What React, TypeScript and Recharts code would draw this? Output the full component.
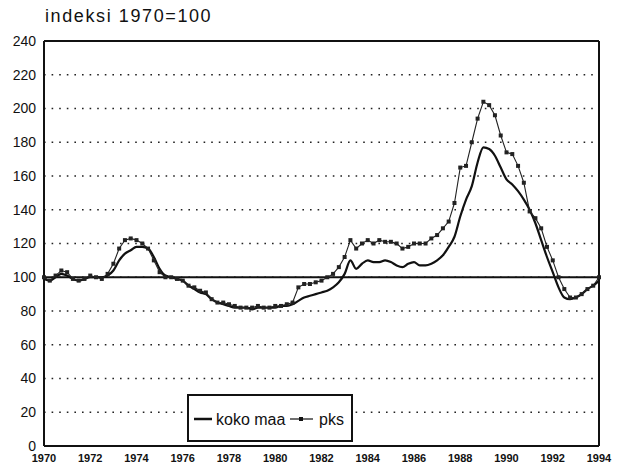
import {
  CartesianGrid,
  Line,
  LineChart,
  ReferenceLine,
  XAxis,
  YAxis,
} from "recharts";

// quarterly, 1970 Q1 .. 1994 Q1
const startYear = 1970;

const kokoMaa = [
  99, 98, 100, 102,
  101, 99, 98, 99,
  100, 100, 100, 101,
  104, 110, 114, 116,
  118, 118, 117, 112,
  105, 101, 100, 99,
  98, 95, 93, 91,
  90, 87, 85, 84,
  83, 82, 82, 82,
  81, 82, 82, 82,
  82, 83, 83, 84,
  86, 88, 89, 90,
  91, 92, 94, 97,
  102, 110, 105, 108,
  110, 109, 109, 110,
  109, 107, 106, 108,
  109, 107, 107, 108,
  110, 113, 118, 124,
  136, 146, 154, 168,
  177, 176, 172, 165,
  158, 155, 151, 146,
  140, 132, 122, 112,
  103, 94, 88, 87,
  88, 90, 93, 95,
  98,
];

const pks = [
  100, 98, 101, 104,
  103, 99, 98, 99,
  101, 100, 99, 102,
  108, 117, 122, 123,
  122, 120, 117, 110,
  103, 100, 100, 99,
  98, 95, 94, 92,
  91, 87, 85, 85,
  84, 83, 82, 82,
  82, 83, 82, 82,
  83, 83, 84, 85,
  94, 96, 96, 97,
  98, 100, 102, 106,
  112, 122, 117, 120,
  122, 120, 122, 121,
  121, 120, 117, 118,
  120, 120, 120, 123,
  125, 129, 133, 144,
  165, 166, 180, 194,
  204, 202, 196, 184,
  174, 173, 166, 156,
  139, 135, 129, 118,
  110, 100, 93, 88,
  88, 90, 93, 95,
  100,
];

const yearTicks = [1970, 1972, 1974, 1976, 1978, 1980, 1982, 1984, 1986, 1988, 1990, 1992, 1994];
const valueTicks = [0, 20, 40, 60, 80, 100, 120, 140, 160, 180, 200, 220, 240];

const data = kokoMaa.map((v, i) => ({
  t: startYear + i / 4,
  "koko maa": v,
  pks: pks[i],
}));

const font = '"Liberation Sans", Arial, Helvetica, sans-serif';

function SquareDot(props: any) {
  const { cx, cy } = props;
  if (cx == null || cy == null) return null;
  return <rect x={cx - 2} y={cy - 2} width={4} height={4} fill="#222" />;
}

// legend drawn as a plain box over the plot, like the original
function LegendBox() {
  return (
    <svg
      width={168}
      height={50}
      style={{ position: "absolute", left: 186, top: 393, overflow: "visible" }}
    >
      <rect x={2} y={2} width={164} height={46} fill="#fff" stroke="#111" strokeWidth={2} />
      <line x1={8} y1={26} x2={26} y2={26} stroke="#111" strokeWidth={2.5} />
      <text x={30} y={32} fontFamily={font} fontSize={16} fill="#111">koko maa</text>
      <line x1={104} y1={26} x2={127} y2={26} stroke="#111" strokeWidth={1.2} />
      <rect x={113} y={24} width={4} height={4} fill="#111" />
      <text x={133} y={32} fontFamily={font} fontSize={16} fill="#111">pks</text>
    </svg>
  );
}

export default function App() {
  return (
    <div style={{ position: "absolute", left: 0, top: 0, width: 622, height: 466, background: "#fff" }}>
      <div
        style={{
          position: "absolute",
          left: 45,
          top: 6,
          fontFamily: font,
          fontSize: 18,
          letterSpacing: 1.6,
          color: "#111",
        }}
      >
        indeksi 1970=100
      </div>
      <LineChart width={622} height={466} data={data} margin={{ top: 41, right: 23, left: 0, bottom: 0 }}>
        <CartesianGrid
          horizontal
          vertical={false}
          stroke="#222"
          strokeWidth={1.6}
          strokeDasharray="1.6 6"
        />
        <XAxis
          dataKey="t"
          type="number"
          domain={[1970, 1994]}
          ticks={yearTicks}
          height={20}
          tickLine={false}
          axisLine={{ stroke: "#111", strokeWidth: 2 }}
          tick={{ fill: "#111", fontSize: 11, fontWeight: "bold", fontFamily: '"Liberation Sans Narrow", "Arial Narrow", ' + font }}
          interval={0}
        />
        <YAxis
          domain={[0, 240]}
          ticks={valueTicks}
          width={44}
          tickLine={false}
          axisLine={{ stroke: "#111", strokeWidth: 2 }}
          tick={{ fill: "#111", fontSize: 14, fontFamily: font }}
          interval={0}
        />
        <ReferenceLine y={240} stroke="#111" strokeWidth={2} />
        <ReferenceLine x={1994} stroke="#111" strokeWidth={2} />
        <ReferenceLine y={100} stroke="#111" strokeWidth={2} />
        <Line
          type="monotone"
          dataKey="koko maa"
          stroke="#111"
          strokeWidth={2.2}
          dot={false}
          isAnimationActive={false}
        />
        <Line
          type="linear"
          dataKey="pks"
          stroke="#222"
          strokeWidth={1.1}
          dot={<SquareDot />}
          isAnimationActive={false}
        />
      </LineChart>
      <LegendBox />
    </div>
  );
}
